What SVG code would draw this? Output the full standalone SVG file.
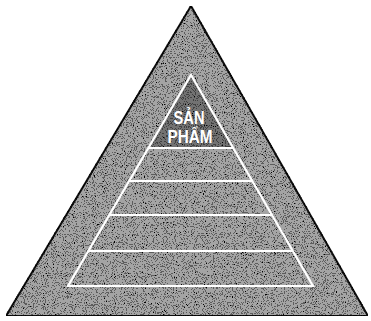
<svg xmlns="http://www.w3.org/2000/svg" width="371" height="321" viewBox="0 0 371 321">
<defs>
<filter id="grain" x="0" y="0" width="100%" height="100%">
<feTurbulence type="fractalNoise" baseFrequency="0.9" numOctaves="2" seed="7" result="n"/>
<feColorMatrix in="n" type="matrix" values="0 0 0 0 0  0 0 0 0 0  0 0 0 0 0  1.2 0 0 0 -0.1" result="dots"/>
<feComponentTransfer in="dots" result="th"><feFuncA type="discrete" tableValues="0 0 0 0.7 1"/></feComponentTransfer>
<feComposite in="th" in2="SourceGraphic" operator="in" result="g"/>
<feMerge><feMergeNode in="SourceGraphic"/><feMergeNode in="g"/></feMerge>
</filter>
<style>
.band{stroke:#fff;stroke-width:2.2;fill:none}
.lbl{font-family:"Liberation Sans",Arial,sans-serif;font-weight:bold;fill:#fff;font-size:19px;text-anchor:middle}
</style>
</defs>
<rect width="371" height="321" fill="#fff"/>
<g id="pyramid">
<polygon points="191,6 368,316 6,316" fill="#a4a4a4" stroke="#111" stroke-width="2" filter="url(#grain)"/>
</g>
<g id="inner">
<polygon points="191,75 233,148 148,148" fill="#000" fill-opacity="0.3"/>
<polygon points="191,75 313,286 68,286" class="band"/>
<line x1="148" y1="148" x2="233" y2="148" class="band"/>
<line x1="129" y1="181" x2="252" y2="181" class="band"/>
<line x1="110" y1="215" x2="272" y2="215" class="band"/>
<line x1="88" y1="251" x2="293" y2="251" class="band"/>
</g>
<g id="label">
<text class="lbl" x="189" y="124" textLength="31" lengthAdjust="spacingAndGlyphs">SẢN</text>
<text class="lbl" x="190" y="143" textLength="45" lengthAdjust="spacingAndGlyphs">PHẨM</text>
</g>
</svg>
